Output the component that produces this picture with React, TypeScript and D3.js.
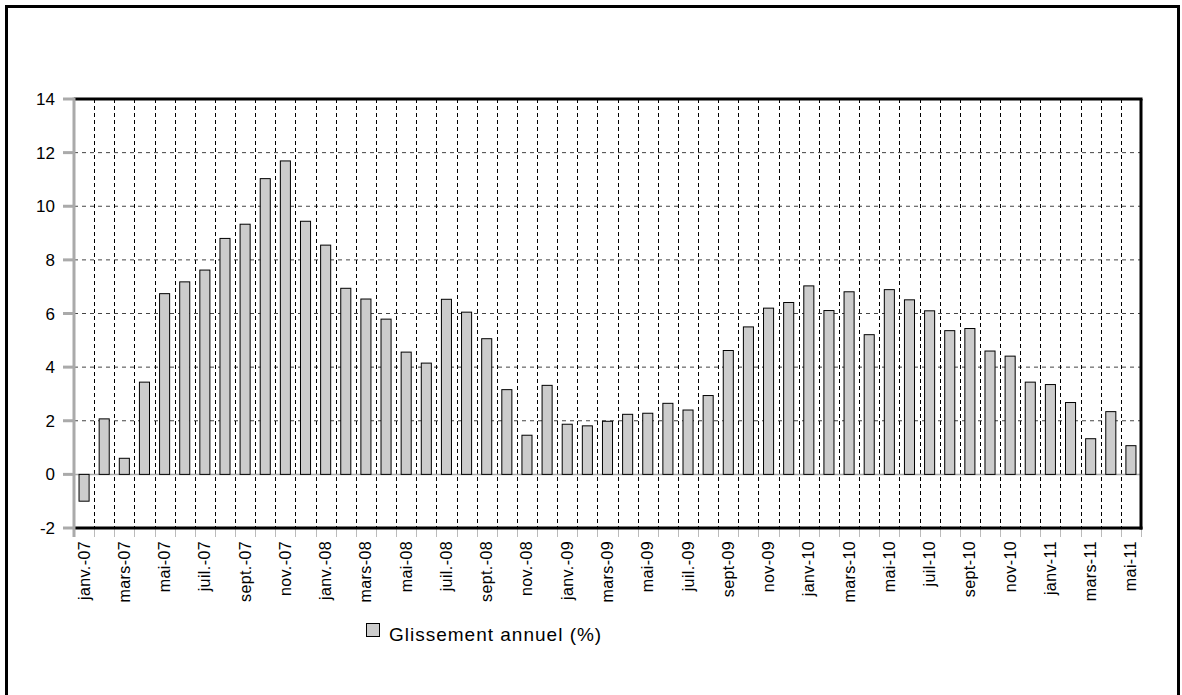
import React from "react";
import * as d3 from "d3";

const categories: string[] = [
  "janv.-07", "févr.-07", "mars-07", "avr.-07", "mai-07", "juin-07", "juil.-07", "août-07", "sept.-07", "oct.-07", "nov.-07", "déc.-07",
  "janv.-08", "févr.-08", "mars-08", "avr.-08", "mai-08", "juin-08", "juil.-08", "août-08", "sept.-08", "oct.-08", "nov.-08", "déc.-08",
  "janv.-09", "févr.-09", "mars-09", "avr.-09", "mai-09", "juin-09", "juil.-09", "août-09", "sept-09", "oct-09", "nov-09", "déc-09",
  "janv-10", "févr-10", "mars-10", "avr-10", "mai-10", "juin-10", "juil-10", "août-10", "sept-10", "oct-10", "nov-10", "déc-10",
  "janv-11", "févr-11", "mars-11", "avr-11", "mai-11",
];

const values: number[] = [
  -1.0, 2.07, 0.6, 3.44, 6.74, 7.18, 7.62, 8.8, 9.33, 11.03, 11.69, 9.44,
  8.55, 6.94, 6.54, 5.79, 4.56, 4.15, 6.53, 6.05, 5.06, 3.16, 1.46, 3.32,
  1.87, 1.81, 1.98, 2.24, 2.28, 2.65, 2.4, 2.94, 4.62, 5.5, 6.2, 6.41,
  7.03, 6.11, 6.81, 5.21, 6.89, 6.51, 6.1, 5.36, 5.44, 4.6, 4.41, 3.44,
  3.35, 2.68, 1.33, 2.34, 1.07,
];

const yTicks: number[] = [-2, 0, 2, 4, 6, 8, 10, 12, 14];
const seriesName = "Glissement annuel (%)";

const W = 1182;
const H = 695;
const left = 74;
const right = 1141;
const top = 99;
const bottom = 528;

export default function App() {
  const x = d3.scaleBand<string>().domain(categories).range([left, right]).paddingInner(0.5).paddingOuter(0.25);
  const y = d3.scaleLinear().domain([-2, 14]).range([bottom, top]);
  const step = x.step();
  const boundaries = d3.range(categories.length + 1).map((i) => left + i * step);
  const font = "Arial, 'Liberation Sans', sans-serif";

  return (
    <svg width={W} height={H} style={{ position: "absolute", left: 0, top: 0, background: "#fff" }}>
      <rect x={6.5} y={6.5} width={1172} height={720} fill="#fff" stroke="#000" strokeWidth={3} />
      {/* horizontal gridlines */}
      {yTicks.filter((t) => t !== -2 && t !== 0 && t !== 14).map((t) => (
        <line key={"h" + t} x1={left} x2={right} y1={y(t)} y2={y(t)} stroke="#444" strokeWidth={1} strokeDasharray="4,4" />
      ))}
      {/* vertical gridlines */}
      {boundaries.slice(1, -1).map((bx, i) => (
        <line key={"v" + i} x1={Math.round(bx) + 0.5} x2={Math.round(bx) + 0.5} y1={top} y2={bottom} stroke="#000" strokeWidth={1} strokeDasharray="4,3" />
      ))}
      {/* zero line */}
      <line x1={left} x2={right} y1={y(0)} y2={y(0)} stroke="#aaa" strokeWidth={1.5} />
      {/* bars */}
      {values.map((v, i) => {
        const x0 = x(categories[i])!;
        const y0 = Math.min(y(v), y(0));
        const h = Math.abs(y(v) - y(0));
        return <rect key={"b" + i} x={x0} y={y0} width={x.bandwidth()} height={h} fill="#cccccc" stroke="#000" strokeWidth={1} />;
      })}
      {/* bottom ticks */}
      {boundaries.map((bx, i) => (
        <line key={"t" + i} x1={Math.round(bx) + 0.5} x2={Math.round(bx) + 0.5} y1={bottom} y2={bottom + 9} stroke="#bbb" strokeWidth={1} />
      ))}
      {/* frame lines */}
      <line x1={left} x2={right + 1.5} y1={top} y2={top} stroke="#000" strokeWidth={3} />
      <line x1={right} x2={right} y1={top} y2={bottom + 1.5} stroke="#000" strokeWidth={3} />
      <line x1={left} x2={right + 1.5} y1={bottom} y2={bottom} stroke="#000" strokeWidth={3} />
      {/* left axis */}
      <line x1={left} x2={left} y1={top - 1.5} y2={bottom + 9} stroke="#aaa" strokeWidth={3} />
      {yTicks.map((t) => (
        <g key={"y" + t}>
          <line x1={63} x2={left} y1={y(t)} y2={y(t)} stroke="#aaa" strokeWidth={3} />
          <text x={55} y={y(t)} dy="0.36em" textAnchor="end" fontFamily={font} fontSize={17} fill="#000">
            {t}
          </text>
        </g>
      ))}
      {/* x labels */}
      {categories.map((c, i) =>
        i % 2 === 0 ? (
          <text
            key={"x" + i}
            transform={`translate(${x(c)! + x.bandwidth() / 2 + 5.5},${bottom + 13}) rotate(-90)`}
            textAnchor="end"
            fontFamily={font}
            fontSize={16}
            letterSpacing={0.4}
            fill="#000"
          >
            {c}
          </text>
        ) : null
      )}
      {/* legend */}
      <rect x={366.5} y={623.5} width={13} height={13} fill="#cccccc" stroke="#000" strokeWidth={1} />
      <text x={389} y={641} fontFamily={font} fontSize={19} letterSpacing={1} fill="#000">
        {seriesName}
      </text>
    </svg>
  );
}
